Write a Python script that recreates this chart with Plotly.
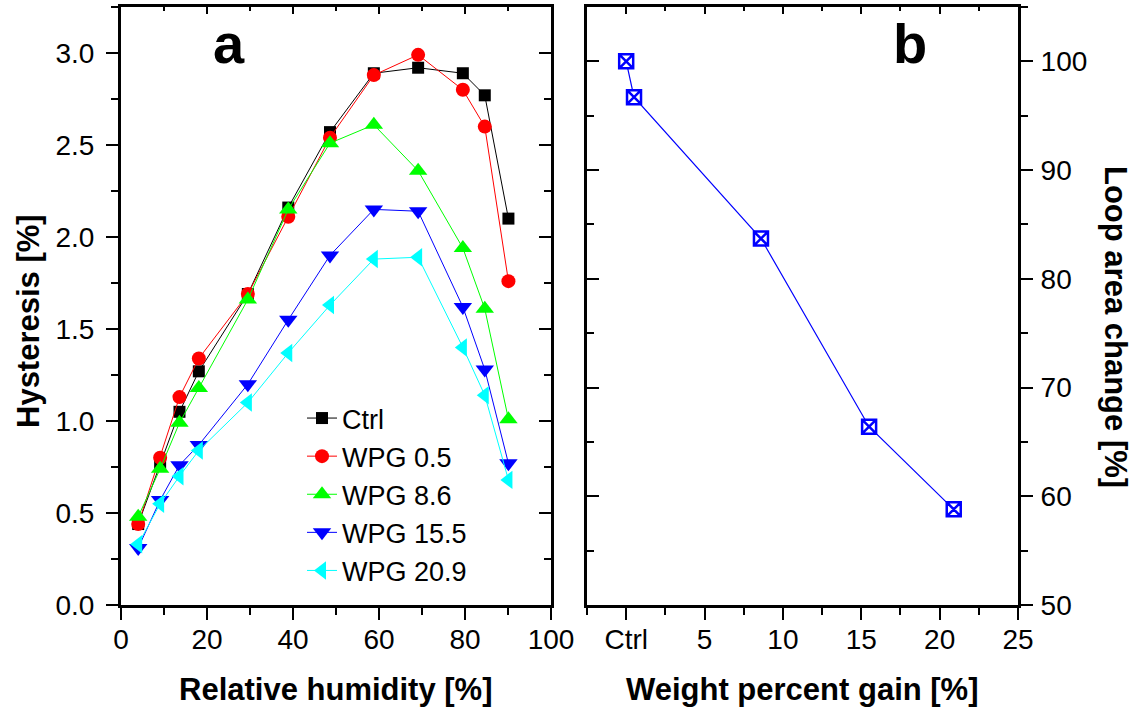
import plotly.graph_objects as go

# ---------------- data ----------------
rh = [4.0, 9.1, 13.6, 18.1, 29.5, 38.9, 48.6, 58.8, 69.1, 79.5, 84.6, 90.1]
ctrl = [0.44, 0.77, 1.05, 1.27, 1.69, 2.16, 2.57, 2.89, 2.92, 2.89, 2.77, 2.10]
wpg05 = [0.44, 0.80, 1.13, 1.34, 1.69, 2.11, 2.54, 2.88, 2.99, 2.80, 2.60, 1.76]
wpg86 = [0.48, 0.74, 0.99, 1.18, 1.66, 2.15, 2.51, 2.61, 2.36, 1.94, 1.61, 1.01]
wpg155 = [0.31, 0.57, 0.76, 0.87, 1.20, 1.55, 1.90, 2.15, 2.14, 1.62, 1.28, 0.77]
wpg209 = [0.33, 0.55, 0.70, 0.84, 1.10, 1.37, 1.63, 1.88, 1.89, 1.40, 1.14, 0.68]

series_names = ["Ctrl", "WPG 0.5", "WPG 8.6", "WPG 15.5", "WPG 20.9"]
series_values = [ctrl, wpg05, wpg86, wpg155, wpg209]

wpg = [0, 0.5, 8.6, 15.5, 20.9]
loop_area = [100.0, 96.7, 83.7, 66.4, 58.8]

b_tickvals = [0, 5, 10, 15, 20, 25]
b_ticktext = ["Ctrl", "5", "10", "15", "20", "25"]

# ---------------- styles ----------------
colors = ["#000000", "#FF0000", "#00FF00", "#0000FF", "#00FFFF"]
symbols = ["square", "circle", "triangle-up", "triangle-down", "triangle-left"]
sizes = [12, 14, 16, 16, 16]

W, H = 1137, 708
FONT = "Arial, Liberation Sans, sans-serif"


def px(x):
    return x / W


def py(y):
    return 1 - y / H


xa_dom = [px(121), px(551)]
xb_dom = [px(587), px(1018)]
y_dom = [py(605), py(7)]

fig = go.Figure()

for name, vals, c, s, sz in zip(series_names, series_values, colors, symbols, sizes):
    fig.add_trace(go.Scatter(
        x=rh, y=vals, name=name, mode="lines+markers",
        line=dict(color=c, width=1),
        marker=dict(symbol=s, size=sz, color=c, line=dict(width=0)),
        xaxis="x", yaxis="y",
    ))

fig.add_trace(go.Scatter(
    x=wpg, y=loop_area, mode="lines+markers", showlegend=False,
    line=dict(color="#0000FF", width=1.2),
    marker=dict(symbol="square-x", size=14, color="white",
                line=dict(color="#0000FF", width=2.5)),
    xaxis="x2", yaxis="y2",
))

# empty traces so that the mirror (frame) axes are drawn
for xa, ya in [("x3", "y"), ("x", "y3"), ("x4", "y2"), ("x2", "y4")]:
    fig.add_trace(go.Scatter(x=[], y=[], xaxis=xa, yaxis=ya, showlegend=False,
                             hoverinfo="skip", mode="markers"))

tickfont = dict(family=FONT, size=28, color="black")
common = dict(showline=True, linewidth=3, linecolor="black", showgrid=False,
              zeroline=False, tickwidth=2, tickcolor="black", tickfont=tickfont,
              automargin=False, fixedrange=True)
mt = dict(tickwidth=2, tickcolor="black")

fig.update_layout(
    xaxis=dict(domain=xa_dom, anchor="y", range=[0, 100], tickmode="linear",
               tick0=0, dtick=20, ticks="outside", ticklen=12,
               ticklabelstandoff=-5,
               minor=dict(ticks="outside", ticklen=7, dtick=10, tick0=0, **mt),
               **common),
    yaxis=dict(domain=y_dom, anchor="x", range=[0, 3.25], tickmode="linear",
               tick0=0, dtick=0.5, tickformat=".1f", ticks="outside",
               ticklen=12, ticklabelstandoff=6,
               minor=dict(ticks="outside", ticklen=7, dtick=0.25, tick0=0, **mt),
               **common),
    xaxis3=dict(overlaying="x", anchor="y", side="top", range=[0, 100],
                tickmode="linear", tick0=0, dtick=20, ticks="inside",
                ticklen=7, showticklabels=False,
                minor=dict(ticks="inside", ticklen=4, dtick=10, tick0=0, **mt),
                **common),
    yaxis3=dict(overlaying="y", anchor="x", side="right", range=[0, 3.25],
                tickmode="linear", tick0=0, dtick=0.5, ticks="inside",
                ticklen=12, showticklabels=False,
                minor=dict(ticks="inside", ticklen=7, dtick=0.25, tick0=0, **mt),
                **common),
    xaxis2=dict(domain=xb_dom, anchor="y2", range=[-2.5, 25], tickmode="array",
                tickvals=b_tickvals, ticktext=b_ticktext, ticks="outside",
                ticklen=12, ticklabelstandoff=-5,
                minor=dict(ticks="outside", ticklen=7, tickmode="linear",
                           dtick=2.5, tick0=0, **mt),
                **common),
    yaxis2=dict(domain=y_dom, anchor="x2", side="right", range=[50, 105],
                tickmode="linear", tick0=50, dtick=10, ticks="outside",
                ticklen=12, ticklabelstandoff=2,
                minor=dict(ticks="outside", ticklen=7, dtick=5, tick0=50, **mt),
                **common),
    xaxis4=dict(overlaying="x2", anchor="y2", side="top", range=[-2.5, 25],
                tickmode="array", tickvals=b_tickvals, ticks="inside",
                ticklen=7, showticklabels=False,
                minor=dict(ticks="inside", ticklen=4, tickmode="linear",
                           dtick=2.5, tick0=0, **mt),
                **common),
    yaxis4=dict(overlaying="y2", anchor="x2", side="left", range=[50, 105],
                tickmode="linear", tick0=50, dtick=10, ticks="inside",
                ticklen=12, showticklabels=False,
                minor=dict(ticks="inside", ticklen=7, dtick=5, tick0=50, **mt),
                **common),
)

title_font = dict(family=FONT, size=31, color="black")
annotations = [
    dict(text="<b>Relative humidity [%]</b>", x=px(336), y=py(689),
         xanchor="center", yanchor="middle", font=title_font),
    dict(text="<b>Weight percent gain [%]</b>", x=px(802), y=py(689),
         xanchor="center", yanchor="middle", font=title_font),
    dict(text="<b>Hysteresis [%]</b>", x=px(28), y=py(321), textangle=-90,
         xanchor="center", yanchor="middle", font=title_font),
    dict(text="<b>Loop area change [%]</b>", x=px(1116), y=py(327), textangle=90,
         xanchor="center", yanchor="middle", font=title_font),
    dict(text="<b>a</b>", x=px(229), y=py(44), xanchor="center",
         yanchor="middle", font=dict(family=FONT, size=56, color="black")),
    dict(text="<b>b</b>", x=px(910), y=py(44), xanchor="center",
         yanchor="middle", font=dict(family=FONT, size=56, color="black")),
]
for a in annotations:
    a.update(xref="paper", yref="paper", showarrow=False)

fig.update_layout(
    width=W, height=H,
    margin=dict(l=0, r=0, t=0, b=0, autoexpand=False),
    paper_bgcolor="white", plot_bgcolor="white",
    annotations=annotations,
    legend=dict(x=px(302), y=py(394), xanchor="left", yanchor="top",
                font=dict(family=FONT, size=27, color="black"),
                bgcolor="rgba(0,0,0,0)", tracegroupgap=0),
)

fig.write_html("out.html")
